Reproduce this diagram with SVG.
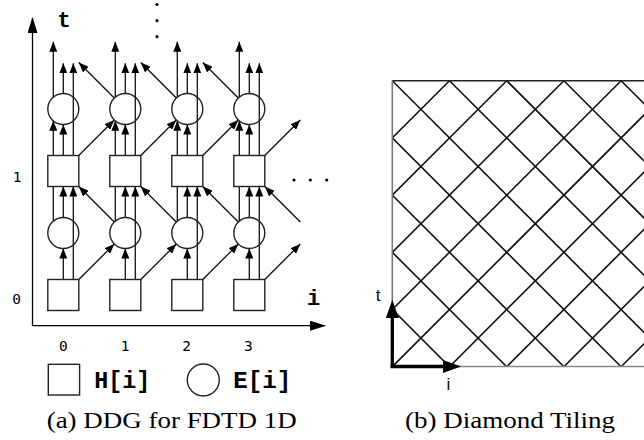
<svg xmlns="http://www.w3.org/2000/svg" width="644" height="440" viewBox="0 0 644 440">
<style>
.c{fill:none;stroke:#111;stroke-width:1.3}
.c path{marker-end:url(#ah)}
.sq{fill:#fff;stroke:#222;stroke-width:1.4}
.ci{fill:none;stroke:#222;stroke-width:1.4}
.mono{font-family:"Liberation Mono","DejaVu Sans Mono",monospace;font-weight:bold;fill:#000}
.num{font-family:"DejaVu Sans Mono","Liberation Mono",monospace;font-size:14.5px;fill:#000;text-anchor:middle}
.cap{font-family:"Liberation Serif","DejaVu Serif",serif;font-size:24px;fill:#000}
.grid{stroke:#111;stroke-width:1.6;fill:none}
</style>
<defs>
<marker id="ah" markerUnits="userSpaceOnUse" markerWidth="10" markerHeight="8" refX="10" refY="4" orient="auto"><path d="M0,0 L10,4 L0,8 z" fill="#000"/></marker>
<marker id="ax" markerUnits="userSpaceOnUse" markerWidth="16" markerHeight="10" refX="15" refY="5" orient="auto"><path d="M0,0 L16,5 L0,10 z" fill="#000"/></marker>
<marker id="bx" markerUnits="userSpaceOnUse" markerWidth="18" markerHeight="13" refX="2" refY="6.5" orient="auto"><path d="M0,0 L18,6.5 L0,13 z" fill="#000"/></marker>
<clipPath id="clip"><rect x="392.3" y="80.7" width="260" height="285.8"/></clipPath>
</defs>
<g id="axes-a" fill="none" stroke="#000" stroke-width="1.3">
<path d="M32.5,325.7 V18" marker-end="url(#ax)"/>
<path d="M32.5,325.7 H325" marker-end="url(#ax)"/>
</g>
<g id="connectors" class="c">
<path d="M63.3,279.5 V248.5"/><path d="M73.3,279.5 V186.5"/><path d="M78.8,279.5 L114.3,244"/>
<path d="M63.3,217.5 V186.5"/><path d="M53.3,221.2 V120.8"/>
<path d="M63.3,155.5 V124.5"/><path d="M73.3,155.5 V63.3"/><path d="M78.8,155.5 L114.3,120"/>
<path d="M63.3,93.5 V63.3"/><path d="M53.3,97.2 V41.7"/>

<path d="M125.3,279.5 V248.5"/><path d="M135.3,279.5 V186.5"/><path d="M140.8,279.5 L176.3,244"/>
<path d="M125.3,217.5 V186.5"/><path d="M115.3,221.2 V120.8"/><path d="M114.3,222 L78.8,186.5"/>
<path d="M125.3,155.5 V124.5"/><path d="M135.3,155.5 V63.3"/><path d="M140.8,155.5 L176.3,120"/>
<path d="M125.3,93.5 V63.3"/><path d="M115.3,97.2 V41.7"/><path d="M114.3,98 L78.8,62.5"/>

<path d="M187.3,279.5 V248.5"/><path d="M197.3,279.5 V186.5"/><path d="M202.8,279.5 L238.3,244"/>
<path d="M187.3,217.5 V186.5"/><path d="M177.3,221.2 V120.8"/><path d="M176.3,222 L140.8,186.5"/>
<path d="M187.3,155.5 V124.5"/><path d="M197.3,155.5 V63.3"/><path d="M202.8,155.5 L238.3,120"/>
<path d="M187.3,93.5 V63.3"/><path d="M177.3,97.2 V41.7"/><path d="M176.3,98 L140.8,62.5"/>

<path d="M249.3,279.5 V248.5"/><path d="M259.3,279.5 V186.5"/><path d="M264.8,279.5 L300.3,244"/>
<path d="M249.3,217.5 V186.5"/><path d="M239.3,221.2 V120.8"/><path d="M238.3,222 L202.8,186.5"/>
<path d="M249.3,155.5 V124.5"/><path d="M259.3,155.5 V63.3"/><path d="M264.8,155.5 L300.3,120"/>
<path d="M249.3,93.5 V63.3"/><path d="M239.3,97.2 V41.7"/><path d="M238.3,98 L202.8,62.5"/>

<path d="M300.3,222 L264.8,186.5"/>
</g>
<g id="H0-0"><rect class="sq" x="47.8" y="279.5" width="31" height="31"/></g>
<g id="H0-1"><rect class="sq" x="109.8" y="279.5" width="31" height="31"/></g>
<g id="H0-2"><rect class="sq" x="171.8" y="279.5" width="31" height="31"/></g>
<g id="H0-3"><rect class="sq" x="233.8" y="279.5" width="31" height="31"/></g>
<g id="E0-0"><circle class="ci" cx="63.3" cy="233" r="15.5"/></g>
<g id="E0-1"><circle class="ci" cx="125.3" cy="233" r="15.5"/></g>
<g id="E0-2"><circle class="ci" cx="187.3" cy="233" r="15.5"/></g>
<g id="E0-3"><circle class="ci" cx="249.3" cy="233" r="15.5"/></g>
<g id="H1-0"><rect class="sq" x="47.8" y="155.5" width="31" height="31"/></g>
<g id="H1-1"><rect class="sq" x="109.8" y="155.5" width="31" height="31"/></g>
<g id="H1-2"><rect class="sq" x="171.8" y="155.5" width="31" height="31"/></g>
<g id="H1-3"><rect class="sq" x="233.8" y="155.5" width="31" height="31"/></g>
<g id="E1-0"><circle class="ci" cx="63.3" cy="109" r="15.5"/></g>
<g id="E1-1"><circle class="ci" cx="125.3" cy="109" r="15.5"/></g>
<g id="E1-2"><circle class="ci" cx="187.3" cy="109" r="15.5"/></g>
<g id="E1-3"><circle class="ci" cx="249.3" cy="109" r="15.5"/></g>
<g id="dots" fill="#000">
<circle cx="157" cy="4.5" r="1.6"/><circle cx="157" cy="20.7" r="1.6"/><circle cx="157" cy="36.7" r="1.6"/>
<circle cx="294" cy="180" r="1.6"/><circle cx="310.3" cy="180" r="1.6"/><circle cx="326.7" cy="180" r="1.6"/>
</g>
<g id="labels-a">
<text class="mono" x="64" y="27" font-size="22" text-anchor="middle">t</text>
<text class="mono" x="313.5" y="305" font-size="22" text-anchor="middle">i</text>
<text class="num" x="17" y="181.5">1</text>
<text class="num" x="16.5" y="304">0</text>
<text class="num" x="63.3" y="351">0</text>
<text class="num" x="125" y="351">1</text>
<text class="num" x="186.7" y="351">2</text>
<text class="num" x="248.3" y="351">3</text>
</g>
<g id="legend">
<rect class="sq" x="48.3" y="364.3" width="31.3" height="30.7"/>
<text class="mono" x="94.3" y="388.3" font-size="23" textLength="56" lengthAdjust="spacingAndGlyphs">H[i]</text>
<circle class="ci" cx="203.3" cy="380" r="16"/>
<text class="mono" x="233.3" y="388.3" font-size="23" textLength="58" lengthAdjust="spacingAndGlyphs">E[i]</text>
</g>
<text id="cap-a" class="cap" x="46.7" y="428" textLength="250" lengthAdjust="spacingAndGlyphs">(a) DDG for FDTD 1D</text>
<g id="tiling">
<g clip-path="url(#clip)" class="grid">
<path d="M163.5,80.7 L449.3,366.5 M220.7,80.7 L506.5,366.5 M277.9,80.7 L563.7,366.5 M335.1,80.7 L620.9,366.5 M392.3,80.7 L678.1,366.5 M449.5,80.7 L735.3,366.5 M506.7,80.7 L792.5,366.5 M563.9,80.7 L849.7,366.5 M621.1,80.7 L906.9,366.5"/>
<path d="M449.5,80.7 L163.7,366.5 M506.7,80.7 L220.9,366.5 M563.9,80.7 L278.1,366.5 M621.1,80.7 L335.3,366.5 M678.3,80.7 L392.5,366.5 M735.5,80.7 L449.7,366.5 M792.7,80.7 L506.9,366.5 M849.9,80.7 L564.1,366.5 M907.1,80.7 L621.3,366.5"/>
</g>
<path d="M392.3,80.7 H644" stroke="#222" stroke-width="1.6"/>
<path d="M392.3,80.7 V366.5" stroke="#777" stroke-width="1.6"/>
<path d="M392.3,366.5 H644" stroke="#888" stroke-width="1.6"/>
</g>
<g id="axes-b" fill="none" stroke="#000" stroke-width="3.3">
<path d="M392.3,368 V316" marker-end="url(#bx)"/>
<path d="M390.7,366.5 H445" marker-end="url(#bx)"/>
</g>
<g id="labels-b" font-family="Liberation Sans, Arial, sans-serif" font-size="17" fill="#000">
<text x="378" y="300.5" text-anchor="middle">t</text>
<text x="448.5" y="390" text-anchor="middle">i</text>
</g>
<text id="cap-b" class="cap" x="405" y="428" textLength="210" lengthAdjust="spacingAndGlyphs">(b) Diamond Tiling</text>
</svg>
